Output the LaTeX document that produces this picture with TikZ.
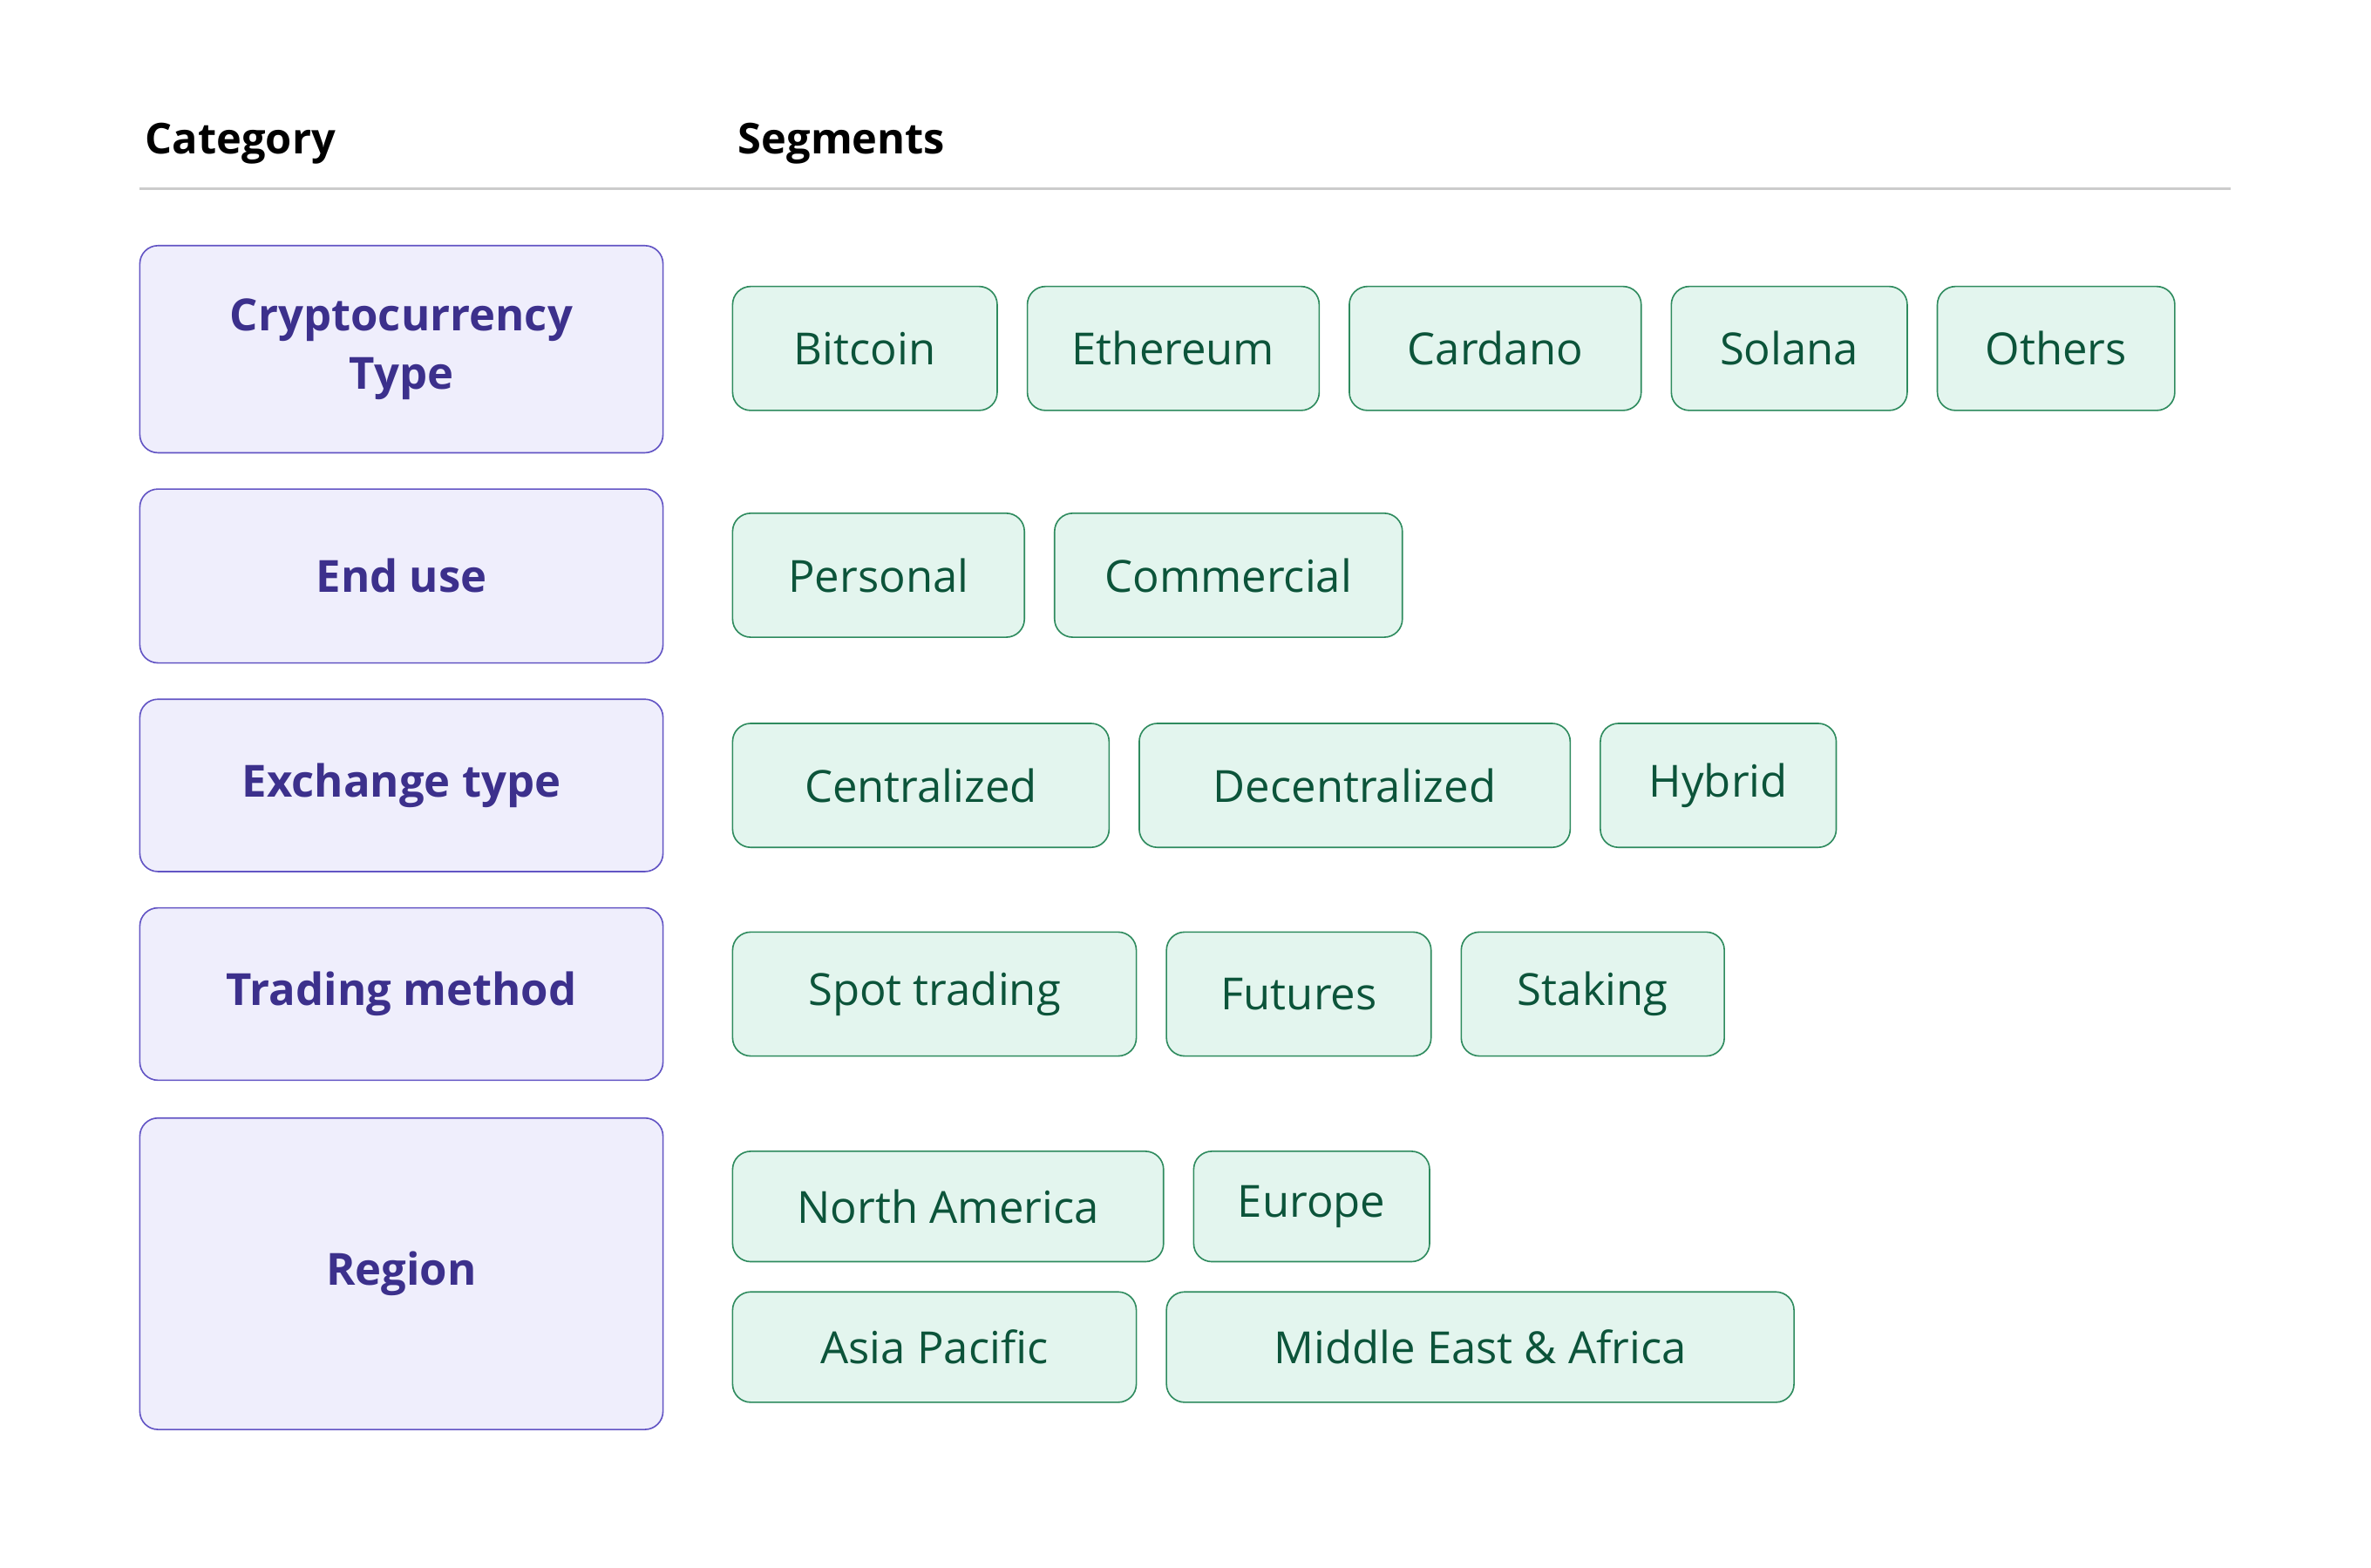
\documentclass[tikz,border=0pt]{standalone}
\usepackage{fontspec}
\setmainfont{Open Sans}
\usetikzlibrary{positioning}
\definecolor{catfill}{RGB}{239, 238, 252}
\definecolor{catline}{RGB}{98, 84, 196}
\definecolor{cattext}{RGB}{60, 48, 140}
\definecolor{segfill}{RGB}{227, 245, 238}
\definecolor{segline}{RGB}{46, 139, 94}
\definecolor{segtext}{RGB}{12, 84, 58}
\definecolor{rulegray}{RGB}{204, 204, 204}
\tikzset{
  category/.style = {shape=rectangle, rounded corners=3.6mm, draw=catline,
                     line width=0.8pt, fill=catfill, text=cattext,
                     align=center, font=\fontsize{25}{33}\selectfont\bfseries,
                     minimum width=103.8mm, anchor=north west},
  segment/.style  = {shape=rectangle, rounded corners=3.6mm, draw=segline,
                     line width=0.8pt, fill=segfill, text=segtext,
                     font=\fontsize{25}{30}\selectfont, minimum height=24.6mm},
  header/.style   = {anchor=west, font=\fontsize{24}{30}\selectfont\bfseries}
}
\begin{document}
\begin{tikzpicture}[node distance=5.7mm, x=1mm, y=1mm]
  \useasboundingbox (0,0) rectangle (470.4,311.1);
  % header
  \node [header] (cat) at (27.6,282.6) {Category};
  \node [header] (seg) at (145.2,282.6) {Segments};
  \coordinate (ruleA) at (27.6,273.6);
  \coordinate (ruleB) at (442.5,273.6);
  \draw [rulegray, line width=1.6pt] (ruleA) -- (ruleB);
  % categories
  \node [category, minimum height=41.1mm] (type) at (27.6,262.5) {Cryptocurrency\\Type};
  \node [category, minimum height=34.5mm] (use) at (27.6,214.2) {End use};
  \node [category, minimum height=34.2mm] (exch) at (27.6,172.5) {Exchange type};
  \node [category, minimum height=34.2mm] (trade) at (27.6,131.1) {Trading method};
  \node [category, minimum height=61.8mm] (region) at (27.6,89.4) {Region};
  % cryptocurrency type
  \node [segment, anchor=north west, minimum width=52.5mm] (btc) at (145.2,254.4) {Bitcoin};
  \node [segment, minimum width=57.9mm] (eth) [right=of btc] {Ethereum};
  \node [segment, minimum width=57.9mm] (ada) [right=of eth] {Cardano};
  \node [segment, minimum width=46.8mm] (sol) [right=of ada] {Solana};
  \node [segment, minimum width=47.1mm] (oth) [right=of sol] {Others};
  % end use
  \node [segment, anchor=north west, minimum width=57.9mm] (pers) at (145.2,209.4) {Personal};
  \node [segment, minimum width=69mm] (comm) [right=of pers] {Commercial};
  % exchange type
  \node [segment, anchor=north west, minimum width=74.7mm] (cent) at (145.2,167.7) {Centralized};
  \node [segment, minimum width=85.5mm] (dec) [right=of cent] {Decentralized};
  \node [segment, minimum width=46.8mm] (hyb) [right=of dec] {Hybrid};
  % trading method
  \node [segment, anchor=north west, minimum width=80.1mm] (spot) at (145.2,126.3) {Spot trading};
  \node [segment, minimum width=52.5mm] (fut) [right=of spot] {Futures};
  \node [segment, minimum width=52.2mm] (stak) [right=of fut] {Staking};
  % region
  \node [segment, anchor=north west, minimum height=21.9mm, minimum width=85.5mm] (na) at (145.2,82.8) {North America};
  \node [segment, minimum height=21.9mm, minimum width=46.8mm] (eu) [right=of na] {Europe};
  \node [segment, anchor=north west, minimum height=21.9mm, minimum width=80.1mm] (apac) at (145.2,54.9) {Asia Pacific};
  \node [segment, minimum height=21.9mm, minimum width=124.5mm] (mea) [right=of apac] {Middle East \& Africa};
\end{tikzpicture}
\end{document}
